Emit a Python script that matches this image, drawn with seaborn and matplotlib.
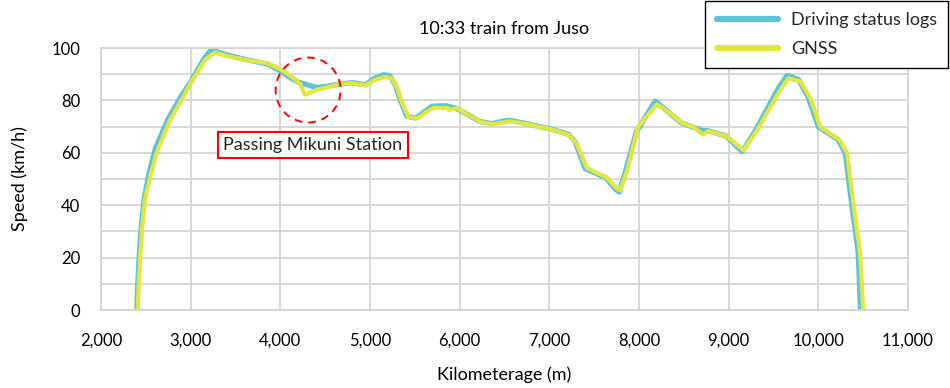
import numpy as np
import pandas as pd
import matplotlib
matplotlib.use("Agg")
import matplotlib.pyplot as plt
from matplotlib.patches import Ellipse
import seaborn as sns

# Speed profile of the 10:33 train from Juso
log_km = [2400, 2410, 2430, 2455, 2485, 2535, 2610, 2750, 2900, 3000,
          3150, 3230, 3300, 3450, 3630, 3850, 3990, 4100, 4200, 4300,
          4400, 4500, 4650, 4800, 4950, 5050, 5150, 5220, 5280, 5340,
          5410, 5510, 5600, 5690, 5850, 5960, 6100, 6220, 6360, 6550,
          6740, 7030, 7220, 7290, 7400, 7630, 7740, 7780, 7850, 7970,
          8180, 8330, 8470, 8590, 8700, 8760, 8970, 9150, 9300, 9440,
          9560, 9650, 9700, 9780, 9890, 10000, 10220, 10300, 10370, 10445,
          10470]
log_speed = [0, 10, 23, 34, 43, 52, 62, 73, 82, 87,
             96, 99.5, 98.5, 97, 95.5, 94, 91.5, 89, 87, 86,
             85, 85.3, 86.2, 86.8, 86, 88.5, 89.8, 89.5, 86, 80,
             74, 73.3, 75.5, 77.8, 78, 77, 74.5, 72, 71.2, 72.5,
             71.2, 69, 67, 64, 54, 50.5, 46, 45, 53, 68,
             79.8, 75.5, 71.5, 70, 68.5, 68.5, 66.5, 60.5, 68.5, 77.5,
             85, 89.5, 89, 88, 81, 70, 65, 60, 41, 22,
             0]

gnss_km = [2410, 2420, 2440, 2465, 2495, 2550, 2630, 2770, 2920, 3000,
           3160, 3270, 3400, 3630, 3850, 4000, 4150, 4220, 4275, 4410,
           4550, 4665, 4800, 4950, 5060, 5170, 5240, 5300, 5360, 5430,
           5530, 5620, 5710, 5860, 5880, 5970, 6120, 6230, 6370, 6560,
           6750, 7040, 7230, 7310, 7420, 7640, 7755, 7790, 7870, 7990,
           8200, 8345, 8480, 8600, 8714, 8770, 8980, 9165, 9315, 9460,
           9575, 9665, 9720, 9800, 9910, 10020, 10240, 10320, 10390, 10465,
           10500]
gnss_speed = [0, 10, 22, 34, 43, 51, 61, 72.5, 81.5, 86.6,
              95.5, 98.3, 97, 95.4, 94.3, 92, 88.5, 86.3, 82.2, 84.2,
              85.2, 86.4, 86.6, 85.8, 88, 89, 88.5, 85, 79, 73.7,
              73.2, 75.5, 77.2, 77.2, 76.4, 77, 74.2, 71.8, 71, 72,
              71, 68.8, 66.6, 63, 54.2, 50.6, 46.3, 45.8, 53.4, 70,
              78.5, 75.2, 71.4, 70, 67, 68.3, 66.4, 61, 68.4, 77.2,
              84, 88.5, 88, 87.3, 81, 70, 64.8, 60, 41, 22,
              0]

x_ticks = [2000, 3000, 4000, 5000, 6000, 7000, 8000, 9000, 10000, 11000]
y_ticks = [0, 20, 40, 60, 80, 100]

LOG_COLOR = "#5bc4d6"
GNSS_COLOR = "#e4e640"
GRID_COLOR = "#d4d4d4"

sns.set_theme(style="whitegrid")
plt.rcParams["font.family"] = ["Lato", "DejaVu Sans"]

fig, ax = plt.subplots(figsize=(9.5, 3.88), dpi=100)
fig.subplots_adjust(left=0.1063, right=0.9558, bottom=0.201, top=0.876)

log_df = pd.DataFrame({"km": log_km, "speed": log_speed})
gnss_df = pd.DataFrame({"km": gnss_km, "speed": gnss_speed})

sns.lineplot(data=log_df, x="km", y="speed", ax=ax, color=LOG_COLOR,
             linewidth=3.8, sort=False, estimator=None,
             solid_joinstyle="round", label="Driving status logs")
sns.lineplot(data=gnss_df, x="km", y="speed", ax=ax, color=GNSS_COLOR,
             linewidth=3.0, sort=False, estimator=None,
             solid_joinstyle="round", label="GNSS")

ax.set_xlim(2000, 11000)
ax.set_ylim(0, 100)
ax.set_xticks(x_ticks)
ax.set_xticklabels([f"{t:,}" for t in x_ticks])
ax.set_yticks(y_ticks)
ax.set_yticks(np.arange(10, 100, 20), minor=True)
ax.grid(True, which="both", color=GRID_COLOR, linewidth=1.3)
ax.tick_params(axis="both", which="both", length=0, labelsize=12,
               colors="black")
ax.tick_params(axis="y", pad=15)
ax.tick_params(axis="x", pad=16)
for s in ax.spines.values():
    s.set_color(GRID_COLOR)
    s.set_linewidth(1.3)

ax.set_xlabel("Kilometerage (m)", fontsize=13, labelpad=13, color="black")
ax.set_ylabel("Speed (km/h)", fontsize=13, labelpad=17, color="black")
ax.set_title("10:33 train from Juso", fontsize=13, pad=10, color="black")

# Mikuni station callout
ax.add_patch(Ellipse((4310, 84), width=725, height=24.8, fill=False,
                     edgecolor="red", linestyle=(0, (4, 3)), linewidth=1.4,
                     zorder=5))
ax.text(4360, 63, "Passing Mikuni Station", fontsize=13, ha="center",
        va="center", zorder=6,
        bbox=dict(boxstyle="square,pad=0.3", facecolor="white",
                  edgecolor="red", linewidth=1.5))

leg = ax.legend(loc="upper right", bbox_to_anchor=(948 / 950, 1 - 1 / 388),
                bbox_transform=fig.transFigure, fontsize=13, frameon=True,
                fancybox=False, framealpha=1, edgecolor="black",
                borderaxespad=0, handlelength=3.4, handletextpad=0.7,
                borderpad=0.62, labelspacing=0.72)
leg.get_frame().set_linewidth(1.0)
for line in leg.get_lines():
    line.set_linewidth(4.5)
    line.set_solid_capstyle("round")

fig.savefig("out.png", dpi=100)
